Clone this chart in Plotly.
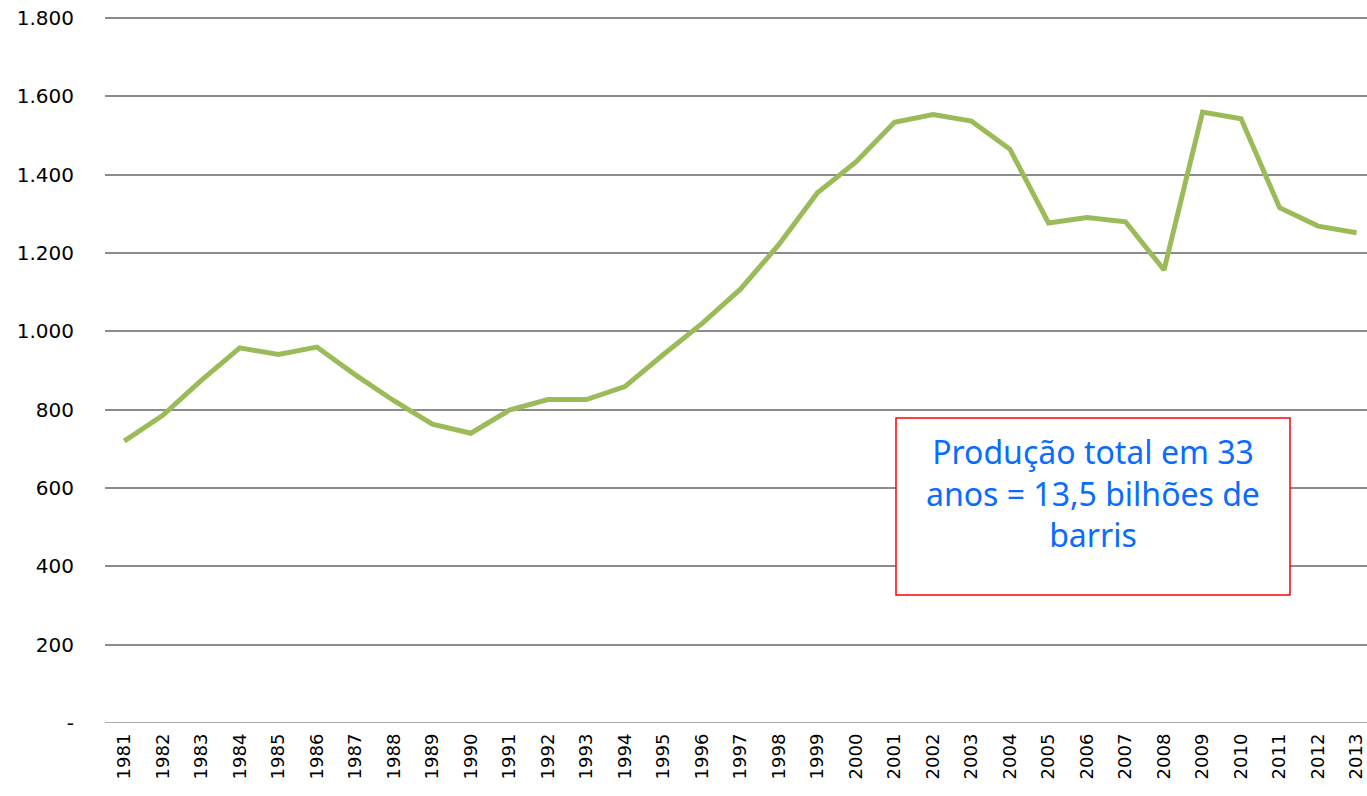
import plotly.graph_objects as go

years = [str(y) for y in range(1981, 2014)]
production = [720, 786, 875, 958, 941, 960, 889, 823, 763, 740, 799, 826, 826, 859,
              941, 1020, 1108, 1222, 1354, 1433, 1534, 1554, 1537, 1465, 1277, 1291,
              1280, 1157, 1560, 1543, 1316, 1269, 1252]

y_tickvals = [0, 200, 400, 600, 800, 1000, 1200, 1400, 1600, 1800]
y_ticktext = ["-", "200", "400", "600", "800", "1.000", "1.200", "1.400", "1.600", "1.800"]

note_text = "Produção total em 33<br>anos = 13,5 bilhões de<br>barris"

fig = go.Figure()
fig.add_trace(go.Scatter(
    x=years, y=production, mode="lines",
    line=dict(color="#9BBB59", width=5, shape="linear"),
    showlegend=False, hoverinfo="skip",
))

fig.update_layout(
    width=1367, height=796,
    margin=dict(l=105, r=0, t=17, b=73),
    paper_bgcolor="white", plot_bgcolor="white",
    font=dict(family="DejaVu Sans", color="black"),
    xaxis=dict(
        type="category", range=[-0.5, 32.27], tickangle=-90,
        showgrid=False, showline=False, zeroline=False, ticks="",
        tickfont=dict(family="DejaVu Sans", size=18, color="black"),
        ticklabelstandoff=6,
    ),
    yaxis=dict(
        range=[0, 1803], tickvals=y_tickvals, ticktext=y_ticktext,
        showgrid=True, gridcolor="#8c8c8c", gridwidth=1.5,
        zeroline=False, showline=False, ticks="",
        tickfont=dict(family="DejaVu Sans", size=20, color="black"),
        ticklabelstandoff=30,
    ),
)

fig.add_shape(type="line", xref="paper", yref="y", x0=0, x1=1, y0=0, y1=0,
              line=dict(color="#8c8c8c", width=1.5), layer="below")

fig.add_shape(type="rect", xref="paper", yref="paper",
              x0=(896 - 105) / 1262, x1=(1290 - 105) / 1262,
              y0=(723 - 595) / 706, y1=(723 - 418) / 706,
              line=dict(color="#FF0000", width=1.5), fillcolor="white", layer="above")

fig.add_annotation(
    xref="paper", yref="paper",
    x=(1093 - 105) / 1262, y=(723 - 493) / 706,
    text=note_text, showarrow=False, align="center",
    xanchor="center", yanchor="middle",
    font=dict(family="Noto Sans", size=32, color="#0A6CFF"),
)

fig.write_html("out.html", config={"displayModeBar": False},
               post_script="document.body.style.margin='0';document.body.style.overflow='hidden';")
